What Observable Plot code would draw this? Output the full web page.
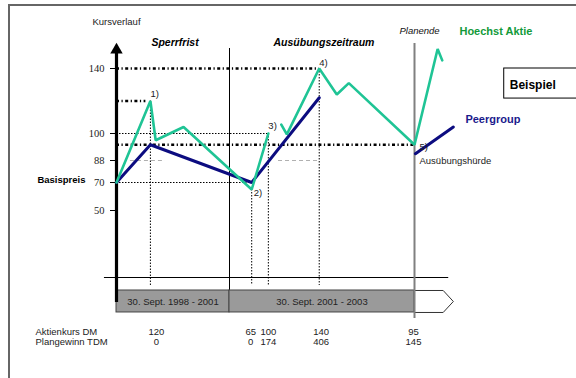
<!DOCTYPE html>
<html><head><meta charset="utf-8">
<script src="https://cdn.jsdelivr.net/npm/d3@7"></script>
<script src="https://cdn.jsdelivr.net/npm/@observablehq/plot@0.6"></script>
<style>
body{margin:0;background:#fff;}
#wrap{position:relative;width:576px;height:378px;overflow:hidden;font-family:"Liberation Sans",Arial,sans-serif;}
#border{position:absolute;left:8px;top:4px;width:700px;height:500px;border:2px solid #666;}
#chart{position:absolute;left:0;top:0;}
</style></head><body>
<div id="wrap"><div id="border"></div><div id="chart"></div></div>
<script>
// ---- data (time in years; 30 Sept = .75) ----
const periodStarts = [1998.75, 2001.75];
const periodEnds = [2001.75, 2003.75];
const periodLabels = ["30. Sept. 1998 - 2001", "30. Sept. 2001 - 2003"];
const periodTitles = ["Sperrfrist", "Ausübungszeitraum"];

const yTickValues = [50, 70, 88, 100, 140];
const basisPreis = 70;
const huerde = 95;

const hoechstX = [1998.75, 1999.65, 1999.79, 2000.53, 2001.99, 2002.17, 2002.25, 2002.31, 2002.37, 2002.72, 2002.91, 2003.04, 2003.75, 2004.0, 2004.05];
const hoechstY = [70, 120, 97, 104, 65, 100, null, 105.5, 99.6, 140, 124, 131, 95, 152, 145];

const peerX = [1998.75, 1999.65, 2001.99, 2002.72, 2003.2, 2003.76, 2004.17];
const peerY = [70, 95, 70, 122, null, 91, 104];

const eventLabels = ["1)", "2)", "3)", "4)", "5)"];
const eventX = [1999.65, 2001.99, 2002.17, 2002.72, 2003.75];
const aktienkursDM = [120, 65, 100, 140, 95];
const plangewinnTDM = [0, 0, 174, 406, 145];

const ref88From = [1999.12, 2002.28];
const ref88To = [2000.05, 2002.71];

// ---- helpers ----
const x0 = periodStarts[0];
const xEnd = periodEnds[1];
const idx = n => d3.range(n);
const sans = "Liberation Sans, Arial, sans-serif";
const serif = "Liberation Serif, Times New Roman, serif";
const green = "#1fc495";
const navy = "#0c0c80";
const dashDot = {stroke: "#000", strokeWidth: 2.6, strokeDasharray: "3,2.5,1.2,2.5"};
const dotted = {stroke: "#000", strokeWidth: 1, strokeDasharray: "1.5,1.5"};

const dashRefs = [{y: 140, to: eventX[3]}, {y: aktienkursDM[0], to: eventX[0] - 0.12}, {y: huerde, to: eventX[4]}];
const dotRefs = [{y: 100, to: eventX[2]}, {y: basisPreis, to: eventX[1]}];

const labelDx = [0, 2, 0, 0, 5];
const labelDy = [-7, 3, -8, -6, 2];
const colDx = [6, -1, 0, 2, -1];

const chart = Plot.plot({
  width: 576,
  height: 378,
  marginLeft: 116,
  style: {fontFamily: sans, background: "transparent"},
  x: {type: "linear", domain: [1998.75, 2001.75, 2003.75], range: [116, 229, 414], axis: null, label: null},
  y: {type: "linear", domain: [0, 50, 70, 88, 100, 140], range: [277, 210, 182, 160, 133, 68], axis: null, label: null},
  marks: [
    Plot.ruleY(idx(2), {y: 88, x1: i => ref88From[i], x2: i => ref88To[i], stroke: "#b0b0b0", strokeDasharray: "4,3"}),
    Plot.ruleY([0], {x1: 1998.43, x2: 2004.12, stroke: "#000", strokeWidth: 1}),
    Plot.ruleY(dotRefs, {y: "y", x1: x0, x2: "to", ...dotted}),
    Plot.ruleY(dashRefs, {y: "y", x1: x0, x2: "to", ...dashDot}),
    Plot.ruleX(idx(4), {x: i => eventX[i], y1: i => aktienkursDM[i], y2: -6, ...dotted}),
    Plot.ruleX([periodEnds[0]], {y1: -26.1, y2: 152.3, stroke: "#000", strokeWidth: 1}),
    Plot.rect(idx(2), {x1: i => periodStarts[i], x2: i => periodEnds[i], y1: -9.7, y2: -26.1, fill: "#9a9a9a", stroke: "#444", strokeWidth: 1}),
    Plot.text(idx(2), {x: i => (periodStarts[i] + periodEnds[i]) / 2, y: -17.9, text: i => periodLabels[i], fontSize: 9.5, fill: "#222"}),
    Plot.line([[xEnd, -9.7], [2004.06, -9.7], [2004.17, -17.9], [2004.06, -26.1], [xEnd, -26.1]], {stroke: "#333", strokeWidth: 1}),
    Plot.ruleX([xEnd], {y1: -30.6, y2: 155.4, stroke: "#808080", strokeWidth: 2}),
    Plot.axisY(yTickValues, {anchor: "left", tickSize: 6, tickPadding: 6, fontSize: 10.5, fontFamily: serif, fill: "#222", label: null}),
    Plot.ruleX([x0], {y1: -18.7, y2: 150, stroke: "#000", strokeWidth: 3.2}),
    Plot.dot([0], {x: x0, y: 151.5, symbol: "triangle", r: 4.6, fill: "#000", stroke: "none"}),
    Plot.line(idx(peerX.length), {x: i => peerX[i], y: i => peerY[i] ?? NaN, stroke: navy, strokeWidth: 3, strokeLinejoin: "miter"}),
    Plot.line(idx(hoechstX.length), {x: i => hoechstX[i], y: i => hoechstY[i] ?? NaN, stroke: green, strokeWidth: 2.6, strokeLinejoin: "miter"}),
    ...idx(5).map(i => Plot.text([eventLabels[i]], {x: eventX[i], y: aktienkursDM[i], text: d => d, dx: labelDx[i], dy: labelDy[i], textAnchor: "start", fontSize: 9.5, fill: "#222"})),
    Plot.text(idx(2), {x: i => (periodStarts[i] + periodEnds[i]) / 2, y: 156, text: i => periodTitles[i], fontSize: 10.5, fontWeight: "bold", fontStyle: "italic", fill: "#000", dx: 2}),
    Plot.text(["Kursverlauf"], {x: x0, y: 168.5, text: d => d, fontSize: 9.5, fill: "#222"}),
    Plot.text(["Planende"], {x: xEnd, y: 163.4, text: d => d, fontSize: 9.5, fontStyle: "italic", fill: "#111", textAnchor: "start", dx: -15}),
    Plot.text(["Hoechst Aktie"], {x: 2004.236, y: 163, text: d => d, fontSize: 11, fontWeight: "bold", fill: "#129a3a", textAnchor: "start"}),
    Plot.text(["Peergroup"], {x: 2004.3, y: 108.6, text: d => d, fontSize: 11, fontWeight: "bold", fill: "#1a1a8c", textAnchor: "start"}),
    Plot.rect([0], {x1: 2004.72, x2: 2005.6, y1: 121.5, y2: 140, fill: "none", stroke: "#000", strokeWidth: 1}),
    Plot.text(["Beispiel"], {x: 2004.78, y: 129.5, text: d => d, fontSize: 12, fontWeight: "bold", fill: "#000", textAnchor: "start"}),
    Plot.text(["Ausübungshürde"], {x: xEnd, y: 88, text: d => d, fontSize: 9.5, fill: "#222", textAnchor: "start", dx: 5}),
    Plot.text(["Basispreis"], {x: x0, y: basisPreis, text: d => d, fontSize: 9.5, fontWeight: "bold", fill: "#000", textAnchor: "end", dx: -31, dy: -3}),
    Plot.text(["Aktienkurs DM", "Plangewinn TDM"], {x: x0, y: (d, i) => [-40.3, -48.1][i], text: d => d, fontSize: 9.5, fill: "#222", textAnchor: "start", dx: -81}),
    ...idx(5).map(i => Plot.text([aktienkursDM[i]], {x: eventX[i], y: -40.3, text: d => String(d), fontSize: 9.5, fill: "#222", dx: colDx[i]})),
    ...idx(5).map(i => Plot.text([plangewinnTDM[i]], {x: eventX[i], y: -48.1, text: d => String(d), fontSize: 9.5, fill: "#222", dx: colDx[i]}))
  ]
});
document.getElementById("chart").appendChild(chart);
</script>
</body></html>
